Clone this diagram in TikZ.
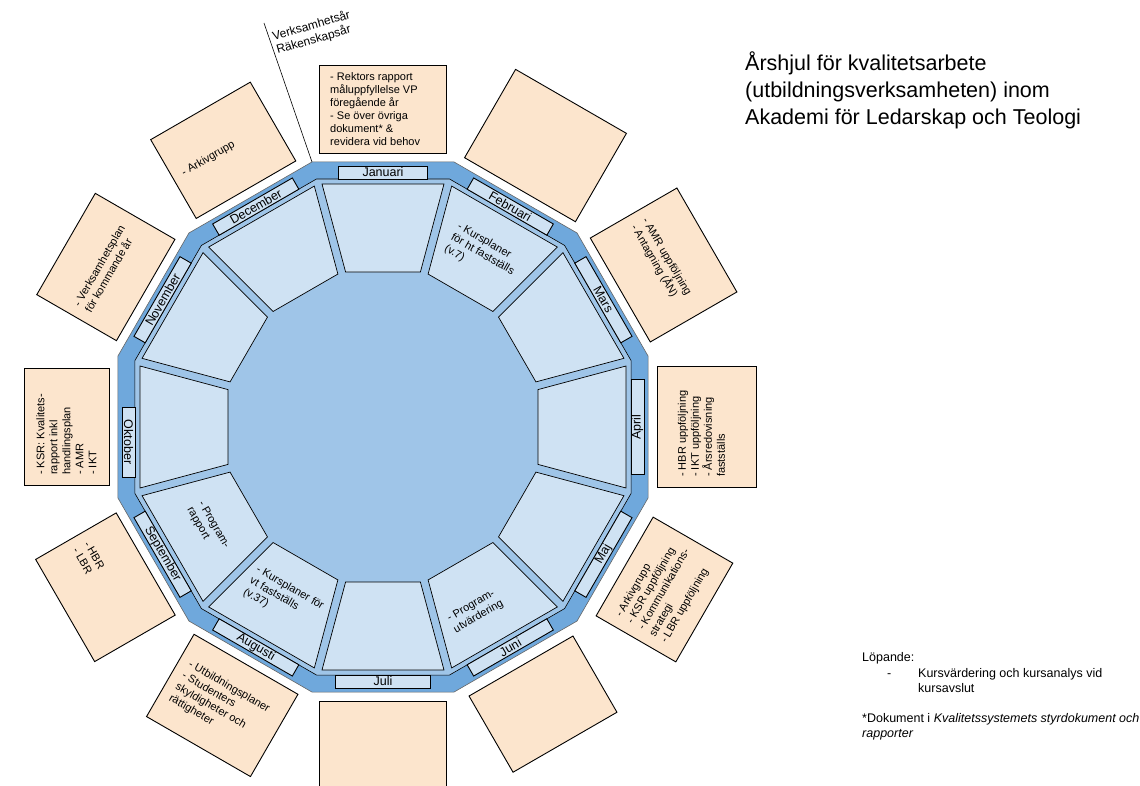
\documentclass[tikz,border=0pt]{standalone}
\usepackage{fontspec}
\setmainfont{Liberation Sans}
\usetikzlibrary{calc}

\definecolor{ringdark}{HTML}{6FA8DC}
\definecolor{ringmid}{HTML}{9FC5E8}
\definecolor{cellblue}{HTML}{CFE2F3}
\definecolor{notepeach}{HTML}{FCE5CD}

\tikzset{
  cell/.style={draw=black, line width=0.7pt, fill=cellblue},
  monthbox/.style={draw=black, line width=0.9pt, fill=cellblue, minimum height=13pt, inner sep=0pt, font=\fontsize{12.5}{14}\selectfont},
  notebox/.style={draw=black, line width=0.9pt, fill=notepeach, inner sep=0pt},
  notetext/.style={align=left, anchor=west, inner xsep=11pt, inner ysep=0pt, font=\fontsize{11}{13}\selectfont},
  celltext/.style={align=left, inner sep=0pt, font=\fontsize{11}{13}\selectfont},
  plaintext/.style={align=left, inner sep=0pt},
}

\begin{document}
\begin{tikzpicture}[x=1pt, y=1pt]
  \useasboundingbox (-383,-358) rectangle (757,427);
  % wheel
  \draw[draw=black!60, line width=0.6pt, fill=ringdark]
    (15:274.4) \foreach \a in {45,75,...,345} {-- (\a:274.4)} -- cycle;
  \draw[draw=black, line width=0.6pt, fill=ringmid]
    (15:256.8) \foreach \a in {45,75,...,345} {-- (\a:256.8)} -- cycle;
  \foreach \t in {90,60,...,-240}
    \draw[cell, rotate=\t-90] (-61,243) -- (61,243) -- (37.4,155) -- (-37.4,155) -- cycle;
  % months
  \foreach \t/\r/\w/\d/\m in {90/0/89/0/Januari, 60/-30/92/0/Februari, 30/-60/92/0/Mars,
      0/90/95/0/April, -30/60/92/0/Maj, -60/30/92/0/Juni, -90/0/95/0/Juli,
      -120/-30/92/0/Augusti, -150/-60/92/0/September, 180/-90/70/-15/Oktober,
      150/60/92/0/November, 120/30/92/0/December}
    \node[monthbox, minimum width=\w, rotate=\r] (\m) at ($(\t:254.5)+(\t-90:\d)$) {\m};
  % notes round the wheel
  \foreach \t/\r/\l/\h/\s/\n in {90/0/127/88/274/jan, 60/-30/128/102/274/feb, 30/-60/120/100/274/mar,
      0/90/121/99/274/apr, -30/60/114/92/279/maj, -60/30/120/88/276/jun, -90/0/127/88/274/jul,
      -120/-30/120/95/274/aug, -150/-60/118/93/274/sep, 180/90/117/85/274/okt,
      150/60/117/92/274/nov, 120/30/115/91/274/dec}
    \node[notebox, minimum width=\l, minimum height=\h, rotate=\r] (note-\n) at (\t:{\s+\h/2}) {};
  \node[notetext, rotate=0] at (note-jan.west) {- Rektors rapport\\måluppfyllelse VP\\föregående år\\- Se över övriga\\dokument* \&\\revidera vid behov};
  \node[notetext, rotate=-60] at (note-mar.west) {- AMR uppföljning\\- Antagning (ÅN)};
  \node[notetext, rotate=90] at ($(note-apr.west)+(-5,0)$) {- HBR uppföljning\\- IKT uppföljning\\- Årsredovisning\\fastställs};
  \node[notetext, rotate=60] at (note-maj.west) {- Arkivgrupp\\- KSR uppföljning\\- Kommunikations-\\strategi\\- LBR uppföljning};
  \node[notetext, rotate=-30] at (note-aug.west) {- Utbildningsplaner\\- Studenters\\skyldigheter och\\rättigheter};
  \node[notetext, rotate=-60] at (note-sep.west) {- HBR\\- LBR};
  \node[notetext, rotate=90] at (note-okt.west) {- KSR: Kvalitets-\\rapport inkl\\handlingsplan\\- AMR\\- IKT};
  \node[notetext, rotate=60] at (note-nov.west) {- Verksamhetsplan\\för kommande år};
  \node[notetext, rotate=30] at (note-dec.west) {- Arkivgrupp};
  % cells
  \node[celltext, rotate=-30] (kp-ht) at (60:199) {- Kursplaner\\för ht fastställs\\(v.7)};
  \node[celltext, rotate=-60] (prog-rap) at (-150:202) {- Program-\\rapport};
  \node[celltext, rotate=-30] (kp-vt) at (-120:199) {- Kursplaner för\\vt fastställs\\(v.37)};
  \node[celltext, rotate=30] (prog-utv) at ($(-60:199)+(-7,-12)$) {- Program-\\utvärdering};
  % year line
  \coordinate (yearbase) at (105:274.4);
  \coordinate (yearend) at (-119,404);
  \draw[line width=0.6pt] (yearbase) -- (yearend);
  \node[plaintext, anchor=north west, rotate=16, font=\fontsize{12}{14}\selectfont] (yearlabel) at (-112,396) {Verksamhetsår\\Räkenskapsår};
  % title and side notes
  \node[plaintext, anchor=north west, font=\fontsize{21.5}{27}\selectfont] (title) at (362,375) {Årshjul för kvalitetsarbete\\(utbildningsverksamheten) inom\\Akademi för Ledarskap och Teologi};
  \node[plaintext, anchor=base west, font=\fontsize{12.5}{15}\selectfont] (running) at (479,-234) {Löpande:};
  \node[plaintext, anchor=base west, font=\fontsize{12.5}{15}\selectfont] (rundash) at (504,-250) {-};
  \node[plaintext, anchor=north west, font=\fontsize{12.5}{15}\selectfont] (runitem) at (535,-240.9) {Kursvärdering och kursanalys vid\\kursavslut};
  \node[plaintext, anchor=north west, font=\fontsize{12.5}{15}\selectfont] (footnote) at (479,-285.9) {*Dokument i \textit{Kvalitetssystemets styrdokument och}\\\textit{rapporter}};
\end{tikzpicture}
\end{document}
